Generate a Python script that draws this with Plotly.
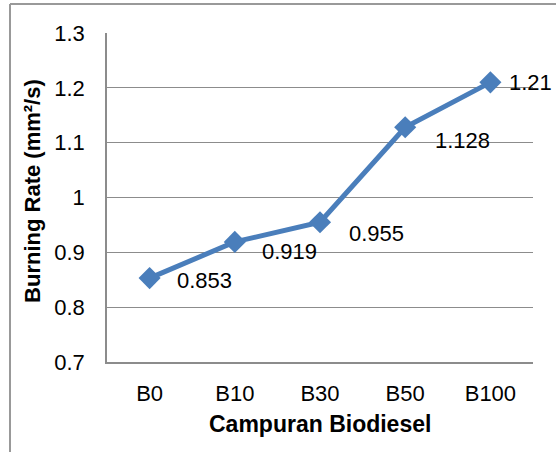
import plotly.graph_objects as go

categories = ["B0", "B10", "B30", "B50", "B100"]
burning_rate = [0.853, 0.919, 0.955, 1.128, 1.21]
label_texts = ["0.853", "0.919", "0.955", "1.128", "1.21"]
y_ticks = [0.7, 0.8, 0.9, 1.0, 1.1, 1.2, 1.3]
y_tick_labels = ["0.7", "0.8", "0.9", "1", "1.1", "1.2", "1.3"]

# pixel offsets of the data labels (style only)
label_xshift = [25, 25, 27, 28, 17]
label_yshift = [-2, -10, -11, -13, 0]

FONT = "Liberation Sans, Arial, sans-serif"
LINE_BLUE = "#4A7EBB"
GRID = "#8C8C8C"

fig = go.Figure()
fig.add_trace(go.Scatter(
    x=categories, y=burning_rate, mode="lines+markers",
    line=dict(color=LINE_BLUE, width=5),
    marker=dict(symbol="diamond", size=17, color=LINE_BLUE),
    showlegend=False, hoverinfo="x+y",
))

annotations = []
for c, v, t, dx, dy in zip(categories, burning_rate, label_texts, label_xshift, label_yshift):
    annotations.append(dict(
        x=c, y=v, xref="x", yref="y", text=t, showarrow=False,
        xanchor="left", yanchor="middle", xshift=dx, yshift=dy,
        font=dict(family=FONT, size=22, color="#000000"),
    ))

annotations.append(dict(
    x=0.5, y=-0.188, xref="paper", yref="paper", text="<b>Campuran Biodiesel</b>",
    showarrow=False, xanchor="center", yanchor="middle",
    font=dict(family=FONT, size=23, color="#000000"),
))
annotations.append(dict(
    x=-0.1737, y=0.52, xref="paper", yref="paper", text="<b>Burning Rate (mm²/s)</b>",
    showarrow=False, xanchor="center", yanchor="middle", textangle=-90,
    font=dict(family=FONT, size=22, color="#000000"),
))

# outer chart frame (partially visible in the crop), drawn in pixel units
# anchored to the plot-area corner
shapes = [
    dict(type="line", xref="paper", yref="paper",
         xsizemode="pixel", ysizemode="pixel", xanchor=0, yanchor=1,
         x0=-97, x1=-97, y0=-420, y1=29,
         line=dict(color="#999999", width=2), layer="above"),
    dict(type="line", xref="paper", yref="paper",
         xsizemode="pixel", ysizemode="pixel", xanchor=0, yanchor=1,
         x0=-97, x1=460, y0=29, y1=29,
         line=dict(color="#999999", width=2), layer="above"),
]

fig.update_layout(
    width=556, height=452,
    margin=dict(l=107, r=23, t=33, b=90),
    paper_bgcolor="white", plot_bgcolor="white",
    font=dict(family=FONT, size=22, color="#000000"),
    annotations=annotations, shapes=shapes,
    xaxis=dict(
        type="category", range=[-0.5, 4.5],
        showline=True, linecolor=GRID, linewidth=1.5, showgrid=False,
        ticks="outside", ticklen=11, tickcolor="rgba(0,0,0,0)",
        tickfont=dict(family=FONT, size=22, color="#000000"),
        zeroline=False,
    ),
    yaxis=dict(
        range=[0.7, 1.3], tickvals=y_ticks, ticktext=y_tick_labels,
        showline=True, linecolor=GRID, linewidth=1.5,
        showgrid=True, gridcolor=GRID, gridwidth=1.2,
        ticks="outside", ticklen=16, tickcolor="rgba(0,0,0,0)",
        tickfont=dict(family=FONT, size=22, color="#000000"),
        zeroline=False,
    ),
)

fig.write_html("out.html", config={"displayModeBar": False},
               post_script="document.body.style.margin='0';")
